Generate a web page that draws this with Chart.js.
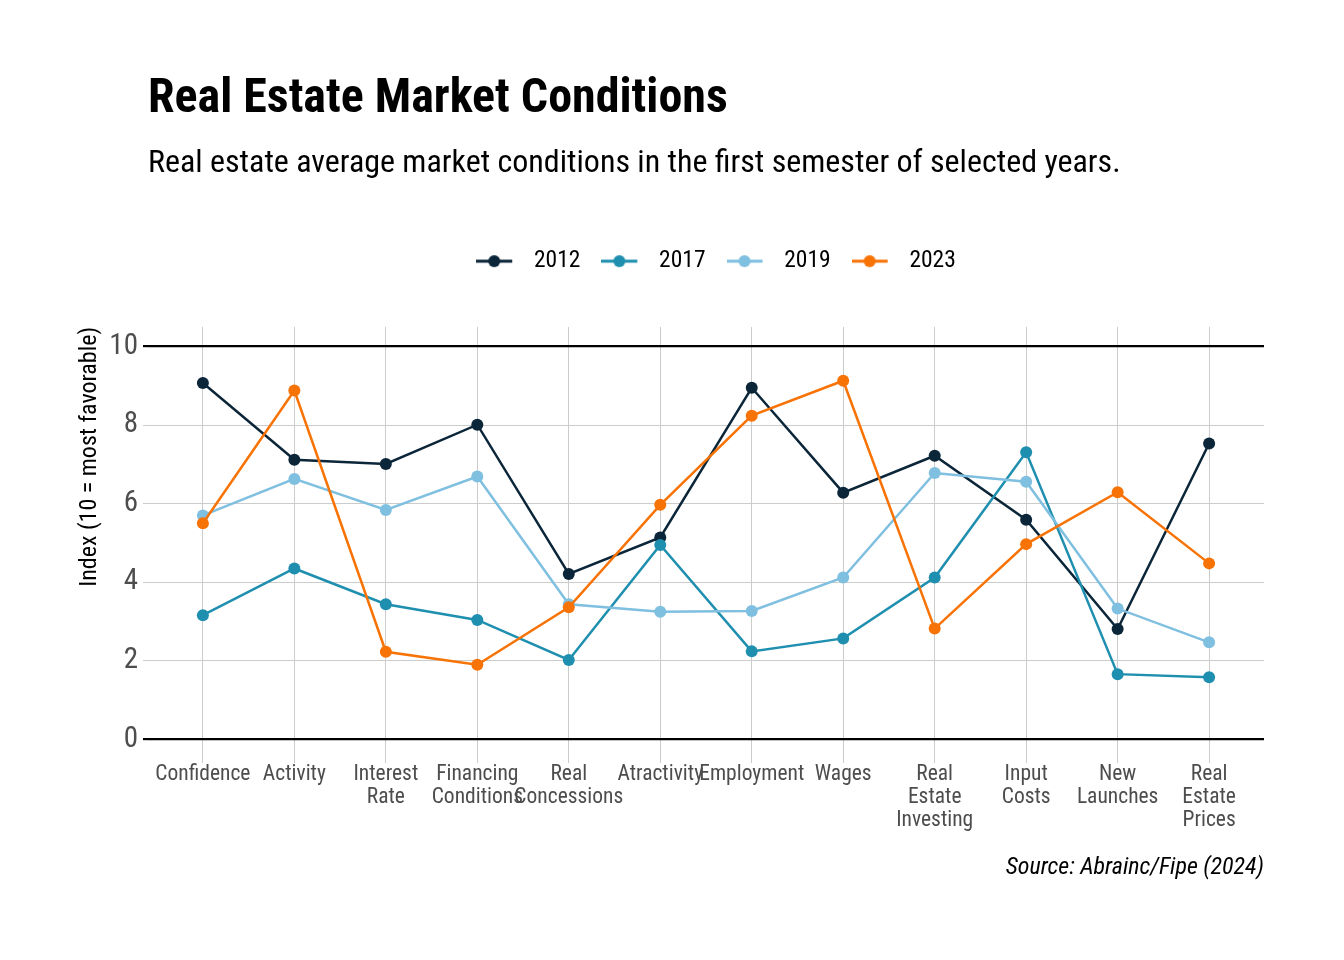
<!DOCTYPE html>
<html>
<head>
<meta charset="utf-8">
<script src="https://cdn.jsdelivr.net/npm/chart.js@4/dist/chart.umd.min.js"></script>
<style>
  html, body { margin: 0; padding: 0; background: #fff; }
</style>
</head>
<body>
<canvas id="chart" width="1344" height="960"></canvas>
<script>
const categories = [
  'Confidence', 'Activity', ['Interest', 'Rate'], ['Financing', 'Conditions'],
  ['Real', 'Concessions'], 'Atractivity', 'Employment', 'Wages',
  ['Real', 'Estate', 'Investing'], ['Input', 'Costs'], ['New', 'Launches'],
  ['Real', 'Estate', 'Prices']
];
const years = ['2012', '2017', '2019', '2023'];
const colors = ['#0b2539', '#1f8fb0', '#7fbfe0', '#f87306'];
const values2012 = [9.07, 7.12, 7.01, 8.01, 4.21, 5.14, 8.95, 6.28, 7.22, 5.59, 2.81, 7.53];
const values2017 = [3.16, 4.35, 3.44, 3.04, 2.02, 4.95, 2.24, 2.57, 4.12, 7.31, 1.66, 1.58];
const values2019 = [5.70, 6.63, 5.84, 6.69, 3.44, 3.25, 3.27, 4.12, 6.78, 6.56, 3.33, 2.47];
const values2023 = [5.50, 8.88, 2.23, 1.90, 3.36, 5.97, 8.24, 9.13, 2.82, 4.97, 6.29, 4.48];
const yTicks = [0, 2, 4, 6, 8, 10];

const titleText = 'Real Estate Market Conditions';
const subtitleText = 'Real estate average market conditions in the first semester of selected years.';
const captionText = 'Source: Abrainc/Fipe (2024)';
const yTitle = 'Index (10 = most favorable)';

const family = "'Roboto Condensed', 'Liberation Sans Narrow', 'DejaVu Sans Condensed', Roboto, sans-serif";
Chart.defaults.font.family = family;

const series = [values2012, values2017, values2019, values2023];

// little line+dot icon for the legend
const icons = {};
function legendIcon(color) {
  if (icons[color]) return icons[color];
  const c = document.createElement('canvas');
  c.width = 46; c.height = 14;
  const g = c.getContext('2d');
  g.strokeStyle = color; g.lineWidth = 3;
  g.beginPath(); g.moveTo(0, 7); g.lineTo(36, 7); g.stroke();
  g.fillStyle = color;
  g.beginPath(); g.arc(18, 7, 6, 0, Math.PI * 2); g.fill();
  icons[color] = c;
  return c;
}

const isFrame = v => v === 0 || v === 10;

const captionPlugin = {
  id: 'caption',
  afterLayout(chart) {
    // legend sits a little right of the panel centre in the original
    if (chart.legend) { chart.legend.left += 10; chart.legend.right += 10; }
  },
  afterDraw(chart) {
    const { ctx, chartArea } = chart;
    ctx.save();
    ctx.font = 'italic 24px ' + family;
    ctx.fillStyle = '#000';
    ctx.textAlign = 'right';
    ctx.textBaseline = 'alphabetic';
    ctx.fillText(captionText, chartArea.right, chartArea.bottom + 115);
    ctx.restore();
  }
};

new Chart(document.getElementById('chart'), {
  type: 'line',
  data: {
    datasets: years.map((y, i) => ({
      label: y,
      data: series[i].map((v, k) => ({ x: k, y: v })),
      borderColor: colors[i],
      backgroundColor: colors[i],
      borderWidth: 2.5,
      pointRadius: 6,
      pointHoverRadius: 6,
      pointBorderWidth: 0,
      tension: 0,
      order: years.length - i
    }))
  },
  options: {
    responsive: false,
    animation: false,
    layout: { padding: { top: 0, left: 70, right: 80, bottom: 121 } },
    scales: {
      x: {
        type: 'linear',
        min: -0.6,
        max: 11.6,
        afterBuildTicks: a => { a.ticks = categories.map((_, i) => ({ value: i })); },
        afterFit: a => { a.height = 80; },
        ticks: {
          callback: v => categories[v],
          autoSkip: false,
          maxRotation: 0,
          minRotation: 0,
          padding: 0,
          color: '#4d4d4d',
          font: { size: 21.5, lineHeight: 1.07 }
        },
        grid: { color: '#cccccc', lineWidth: 1, tickLength: 4 },
        border: { display: false }
      },
      gap: {
        type: 'linear',
        position: 'top',
        display: true,
        afterFit: a => { a.height = 44; },
        ticks: { display: false },
        grid: { display: false, drawTicks: false },
        border: { display: false }
      },
      y: {
        min: -0.5,
        max: 10.5,
        afterBuildTicks: a => { a.ticks = yTicks.map(v => ({ value: v })); },
        afterFit: a => { a.width = 78; },
        ticks: { color: '#4d4d4d', padding: 5, font: { size: 29 } },
        grid: {
          color: c => (c.tick && isFrame(c.tick.value)) ? '#000000' : '#cccccc',
          lineWidth: c => (c.tick && isFrame(c.tick.value)) ? 2.2 : 1,
          tickLength: 5
        },
        border: { display: false },
        title: {
          display: true,
          text: yTitle,
          align: 'end',
          color: '#000',
          font: { size: 24 },
          padding: { top: 5.5, bottom: 0 }
        }
      }
    },
    plugins: {
      title: {
        display: true,
        text: titleText,
        align: 'start',
        fullSize: false,
        color: '#000',
        font: { size: 48, weight: 'bold' },
        padding: { top: 71.6, bottom: 0 }
      },
      subtitle: {
        display: true,
        text: subtitleText,
        align: 'start',
        fullSize: false,
        color: '#000',
        font: { size: 32 },
        padding: { top: 15.8, bottom: 45 }
      },
      legend: {
        position: 'top',
        fullSize: false,
        labels: {
          usePointStyle: true,
          pointStyleWidth: 46,
          padding: 21,
          color: '#000',
          font: { size: 23.5 },
          generateLabels: chart => chart.data.datasets.map((ds, i) => ({
            text: ds.label,
            pointStyle: legendIcon(ds.borderColor),
            fillStyle: ds.borderColor,
            strokeStyle: ds.borderColor,
            lineWidth: 0,
            hidden: false,
            datasetIndex: i,
            fontColor: '#000'
          }))
        }
      },
      tooltip: { enabled: false }
    }
  },
  plugins: [captionPlugin]
});
</script>
</body>
</html>
